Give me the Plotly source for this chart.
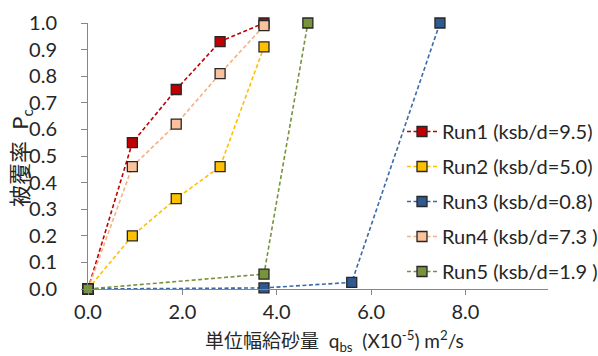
import plotly.graph_objects as go

# Measured coverage ratio Pc against unit-width sediment supply q_bs (x10^-5 m^2/s)
run1_x = [0.0, 0.94, 1.87, 2.80, 3.73]
run1_y = [0.0, 0.55, 0.75, 0.93, 1.00]

run2_x = [0.0, 0.94, 1.87, 2.80, 3.73]
run2_y = [0.0, 0.20, 0.34, 0.46, 0.91]

run3_x = [0.0, 3.73, 5.59, 7.46]
run3_y = [0.0, 0.004, 0.025, 1.00]

run4_x = [0.0, 0.94, 1.87, 2.80, 3.73]
run4_y = [0.0, 0.46, 0.62, 0.81, 0.99]

run5_x = [0.0, 3.73, 4.66]
run5_y = [0.0, 0.056, 1.00]

names = ["Run1 (ksb/d=9.5)", "Run2 (ksb/d=5.0)", "Run3 (ksb/d=0.8)",
         "Run4 (ksb/d=7.3 )", "Run5 (ksb/d=1.9 )"]
series = [(run1_x, run1_y), (run2_x, run2_y), (run3_x, run3_y),
          (run4_x, run4_y), (run5_x, run5_y)]
line_colors = ["#C00000", "#FFC000", "#3C69A8", "#F4B183", "#77933C"]
fill_colors = ["#C00000", "#FFC000", "#2F5A91", "#FAC19B", "#77933C"]

FONT = "Lato, 'Noto Sans CJK JP', sans-serif"
AXIS_GRAY = "#868686"
TEXT = "#262626"
W, H = 598, 356

fig = go.Figure()
for i, ((xs, ys), name) in enumerate(zip(series, names)):
    fig.add_trace(go.Scatter(
        x=xs, y=ys, name=name, mode="lines+markers",
        legendgroup=f"g{i}",
        line=dict(color=line_colors[i], width=1.6, dash="4px,2.5px"),
        marker=dict(symbol="square", size=10, color=fill_colors[i],
                    line=dict(color=TEXT, width=1.3)),
        cliponaxis=False,
    ))

fig.update_layout(
    width=W, height=H,
    margin=dict(l=88, r=50, t=23, b=67, autoexpand=False),
    paper_bgcolor="white", plot_bgcolor="white",
    font=dict(family=FONT, size=20, color=TEXT),
    showlegend=True,
    legend=dict(
        xref="container", yref="container",
        x=402 / W, y=1 - 112 / H, xanchor="left", yanchor="top",
        bgcolor="rgba(0,0,0,0)", font=dict(size=20, color=TEXT),
        tracegroupgap=6, itemwidth=30,
    ),
)

fig.update_xaxes(
    range=[0, 9.75], tickvals=[0, 2, 4, 6, 8], tickformat=".1f",
    showline=True, linecolor=AXIS_GRAY, linewidth=1,
    ticks="outside", ticklen=5, tickcolor=AXIS_GRAY,
    showgrid=False, zeroline=False, ticklabelstandoff=0,
    automargin=False,
)
fig.update_yaxes(
    range=[0, 1.0], dtick=0.1, tickformat=".1f",
    showline=True, linecolor=AXIS_GRAY, linewidth=1,
    ticks="outside", ticklen=6, tickcolor=AXIS_GRAY,
    showgrid=False, zeroline=False, ticklabelstandoff=20,
    automargin=False,
)

# Axis titles, placed in page pixels converted to paper fractions
PW, PH = W - 88 - 50, H - 23 - 67
fig.add_annotation(
    text="単位幅給砂量  q<sub>bs</sub>  (X10<sup>-5</sup>) m<sup>2</sup>/s",
    xref="paper", yref="paper", x=(334 - 88) / PW, y=(289 - 341) / PH,
    xanchor="center", yanchor="middle", showarrow=False,
    font=dict(size=19, family=FONT, color=TEXT),
)
fig.add_annotation(
    text="被覆率  P<sub>c</sub>",
    xref="paper", yref="paper", x=(21 - 88) / PW, y=(289 - 158) / PH,
    xanchor="center", yanchor="middle", showarrow=False, textangle=-90,
    font=dict(size=22, family=FONT, color=TEXT),
)

fig.write_html("out.html")
